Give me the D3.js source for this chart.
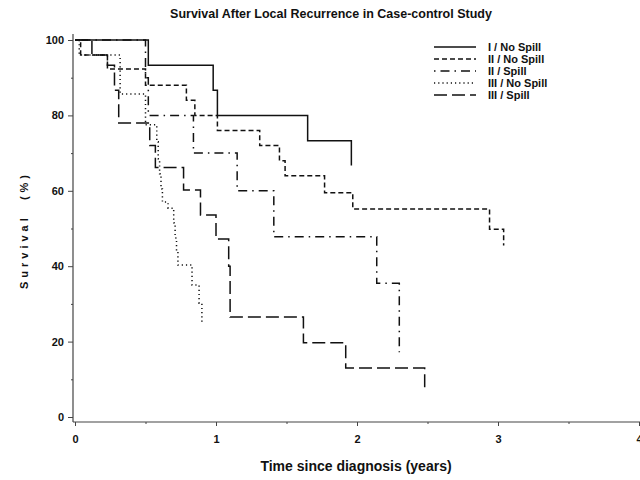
<!DOCTYPE html>
<html>
<head>
<meta charset="utf-8">
<script src="https://cdn.jsdelivr.net/npm/d3@7"></script>
<style>
  body { margin: 0; background: #fff; }
  text { font-family: 'Liberation Sans', Arial, sans-serif; fill: #111; }
</style>
</head>
<body>
<svg width="640" height="480"></svg>
<script>
// group names, in legend order
const groups = ['I / No Spill', 'II / No Spill', 'II / Spill', 'III / No Spill', 'III / Spill'];

// Kaplan-Meier steps (years, survival %)
const timeI_NoSpill = [0, 0.52, 0.98, 1.01, 1.65, 1.96];
const survI_NoSpill = [100, 93.3, 86.7, 80, 73.3, 66.7];

const timeII_NoSpill = [0, 0.04, 0.23, 0.5, 0.79, 0.85, 1.01, 1.31, 1.45, 1.49, 1.77, 1.97, 2.94, 3.04];
const survII_NoSpill = [100, 96, 92.3, 88, 84, 80, 76, 72, 68, 64, 59.5, 55.2, 49.8, 45.5];

const timeII_Spill = [0, 0.5, 0.52, 0.84, 1.15, 1.41, 2.14, 2.3];
const survII_Spill = [100, 90, 80, 70, 60, 47.8, 35.5, 17.2];

const timeIII_NoSpill = [0, 0.03, 0.32, 0.5, 0.58, 0.59, 0.6, 0.61, 0.62, 0.66, 0.7, 0.71, 0.72, 0.73, 0.83, 0.88, 0.9];
const survIII_NoSpill = [100, 96, 85.7, 77.5, 73, 68.5, 64.5, 60.5, 57, 55.4, 51.5, 47.5, 44, 40.3, 35, 30.2, 25];

const timeIII_Spill = [0, 0.12, 0.23, 0.28, 0.31, 0.53, 0.57, 0.77, 0.89, 1.0, 1.09, 1.1, 1.62, 1.92, 2.48];
const survIII_Spill = [100, 96, 93.3, 86.7, 78, 72, 66.2, 60.2, 53.6, 47.2, 40, 26.5, 19.7, 13, 6.6];

const times = [timeI_NoSpill, timeII_NoSpill, timeII_Spill, timeIII_NoSpill, timeIII_Spill];
const survs = [survI_NoSpill, survII_NoSpill, survII_Spill, survIII_NoSpill, survIII_Spill];
const dashes = ['none', '5,3', '1.5,5,9,5', '1.2,3', '13,5'];

const xTicks = [0, 1, 2, 3, 4];
const xMinor = [0.5, 1.5, 2.5, 3.5];
const yTicks = [0, 20, 40, 60, 80, 100];
const yMinor = [10, 30, 50, 70, 90];

const svg = d3.select('svg');
svg.append('rect').attr('width', 640).attr('height', 480).attr('fill', '#fff');

const x = d3.scaleLinear().domain([0, 4]).range([75, 639]);
const y = d3.scaleLinear().domain([0, 100]).range([417, 40]);

// axes
svg.append('line')
  .attr('x1', 73).attr('x2', 73).attr('y1', 34).attr('y2', 422)
  .attr('stroke', '#444').attr('stroke-width', 1.2);
svg.append('line')
  .attr('x1', 73).attr('x2', 640).attr('y1', 422).attr('y2', 422)
  .attr('stroke', '#444').attr('stroke-width', 1.2);

const yAxis = svg.append('g')
  .attr('transform', 'translate(73,0)')
  .call(d3.axisLeft(y).tickValues(yTicks).tickSize(5).tickPadding(4).tickFormat(d3.format('d')));
yAxis.select('.domain').remove();

const yAxisMinor = svg.append('g')
  .attr('transform', 'translate(73,0)')
  .call(d3.axisLeft(y).tickValues(yMinor).tickSize(2).tickFormat(''));
yAxisMinor.select('.domain').remove();

const xAxis = svg.append('g')
  .attr('transform', 'translate(0,422)')
  .call(d3.axisBottom(x).tickValues(xTicks).tickSize(4).tickPadding(9).tickFormat(d3.format('d')));
xAxis.select('.domain').remove();

const xAxisMinor = svg.append('g')
  .attr('transform', 'translate(0,422)')
  .call(d3.axisBottom(x).tickValues(xMinor).tickSize(2).tickFormat(''));
xAxisMinor.select('.domain').remove();

svg.selectAll('.tick line').attr('stroke', '#444');
svg.selectAll('.tick text')
  .attr('font-family', "'Liberation Sans', Arial, sans-serif")
  .attr('font-size', 11)
  .attr('font-weight', 'bold')
  .attr('fill', '#111');

// survival curves
const line = d3.line()
  .x((d) => x(d[0]))
  .y((d) => y(d[1]))
  .curve(d3.curveStepAfter);

groups.forEach((g, i) => {
  const pts = times[i].map((t, j) => [t, survs[i][j]]);
  svg.append('path')
    .datum(pts)
    .attr('d', line)
    .attr('fill', 'none')
    .attr('stroke', '#111')
    .attr('stroke-width', 1.5)
    .attr('stroke-dasharray', dashes[i]);
});

// legend
const legend = svg.append('g');
groups.forEach((g, i) => {
  const ly = 47 + i * 12;
  legend.append('line')
    .attr('x1', 434).attr('x2', 476)
    .attr('y1', ly).attr('y2', ly)
    .attr('stroke', '#111')
    .attr('stroke-width', 1.5)
    .attr('stroke-dasharray', dashes[i]);
  legend.append('text')
    .attr('x', 488).attr('y', ly + 4)
    .attr('font-size', 11)
    .attr('font-weight', 'bold')
    .text(g);
});

// titles
svg.append('text')
  .attr('x', 331).attr('y', 18)
  .attr('text-anchor', 'middle')
  .attr('font-size', 12.5)
  .attr('font-weight', 'bold')
  .text('Survival After Local Recurrence in Case-control Study');

svg.append('text')
  .attr('x', 356).attr('y', 471)
  .attr('text-anchor', 'middle')
  .attr('font-size', 14)
  .attr('font-weight', 'bold')
  .text('Time since diagnosis (years)');

svg.append('text')
  .attr('transform', 'translate(28,230) rotate(-90)')
  .attr('text-anchor', 'middle')
  .attr('font-size', 11)
  .attr('font-weight', 'bold')
  .attr('letter-spacing', 4)
  .attr('xml:space', 'preserve')
  .text('Survival  (%)');
</script>
</body>
</html>
